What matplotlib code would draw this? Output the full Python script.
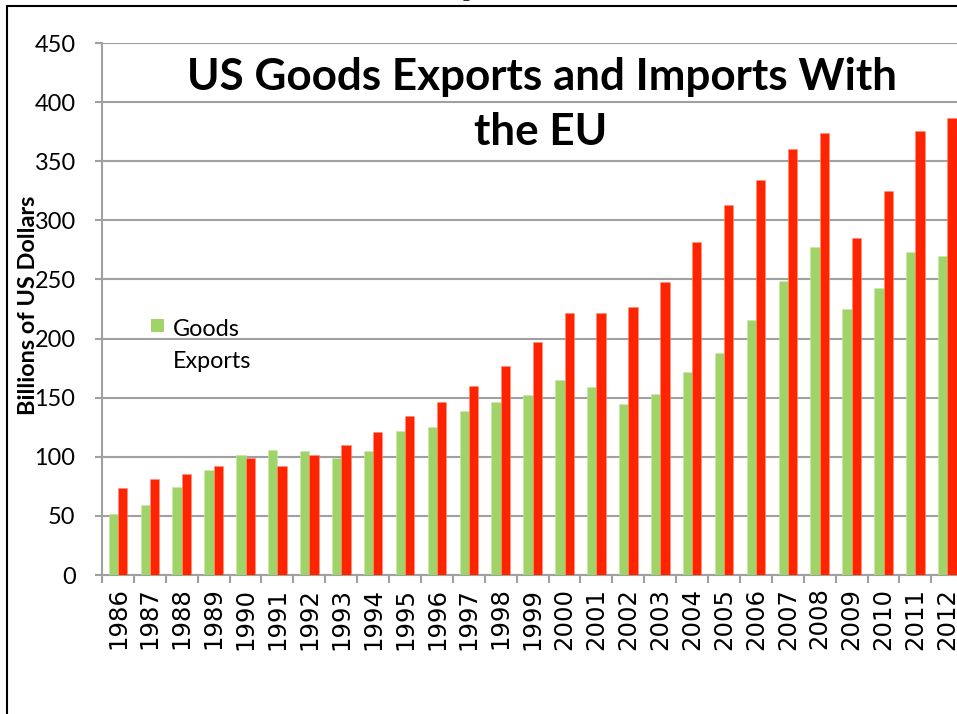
import matplotlib
matplotlib.use("Agg")
import matplotlib.pyplot as plt
import numpy as np
from matplotlib.patches import Rectangle

years = [str(y) for y in range(1986, 2013)]
exports = [51.7, 59.0, 74.2, 89.0, 101.1, 105.9, 105.1, 99.1, 105.3, 121.4,
           124.8, 138.4, 146.0, 152.0, 165.3, 158.8, 144.4, 152.8, 171.5, 188.1,
           215.5, 248.9, 277.1, 225.1, 242.4, 272.9, 269.5]
imports = [73.7, 81.3, 85.6, 92.6, 98.6, 92.4, 101.4, 109.6, 120.9, 134.2,
           146.0, 160.2, 176.6, 196.9, 221.8, 221.8, 227.1, 247.7, 281.4, 313.0,
           334.1, 360.6, 374.1, 285.4, 324.5, 375.2, 386.5]
yticks = list(range(0, 451, 50))
title_lines = ["US Goods Exports and Imports With", "the EU"]
ylabel = "Billions of US Dollars"
legend_label = ["Goods", "Exports"]

W, H = 957, 714
DPI = 100
fig = plt.figure(figsize=(W / DPI, H / DPI), dpi=DPI)
fig.patch.set_facecolor("white")

def fx(px):
    return px / W

def fy(py):
    return 1 - py / H

GREEN = "#A0D468"
RED = "#FF2400"
GRID = "#A0A0A0"

# axes: left x=102, zero y=575, 450 at y=43, category width 31.9 px
ax_left, ax_bottom_px, ax_top_px = 102, 575, 43
cat_w = 31.9
ax = fig.add_axes([fx(ax_left), fy(ax_bottom_px), len(years) * cat_w / W,
                   (ax_bottom_px - ax_top_px) / H])
x = np.arange(len(years))
bw = 0.29
ax.bar(x - bw / 2, exports, width=bw, color=GREEN, edgecolor="#C8E6A8",
       linewidth=0.4, zorder=3, label="Goods Exports")
ax.bar(x + bw / 2, imports, width=bw, color=RED, edgecolor="#FF8C7A",
       linewidth=0.4, zorder=3, label="Goods Imports")

ax.set_xlim(-0.5, len(years) - 0.5)
ax.set_ylim(0, 450)
ax.set_yticks(yticks)
ax.grid(axis="y", color=GRID, linewidth=1.5, zorder=0)
ax.set_axisbelow(True)
for s in ["top", "right"]:
    ax.spines[s].set_visible(False)
for s in ["left", "bottom"]:
    ax.spines[s].set_color(GRID)
    ax.spines[s].set_linewidth(1.5)

ax.set_xticks(x)
ax.set_xticklabels(years, rotation=90, family="DejaVu Sans", fontsize=17,
                   va="top", ha="center")
ax.set_xticks(np.arange(-0.5, len(years)), minor=True)
ax.tick_params(axis="x", which="major", length=0, pad=9)
ax.tick_params(axis="x", which="minor", length=6, width=1.5, color=GRID)
ax.tick_params(axis="y", which="major", length=5, width=1.5, color=GRID,
               pad=14, labelsize=18)
for t in ax.get_yticklabels():
    t.set_family("Lato")

# frame (cropped on right/bottom)
fig.patches.append(Rectangle((fx(6.5), -0.2), 1.5, fy(5.5) + 0.2,
                             transform=fig.transFigure, fill=False,
                             edgecolor="black", linewidth=1.5, zorder=10))
# clipped text remnant at top
fig.text(fx(467), fy(-4), "g", family="Liberation Serif", fontsize=16,
         ha="center", va="baseline")

t1 = fig.text(fx(542), fy(90), title_lines[0], family="Lato",
              fontweight="bold", fontsize=30, ha="center", va="baseline")
t2 = fig.text(fx(541), fy(145), title_lines[1], family="Lato",
              fontweight="bold", fontsize=30, ha="center", va="baseline")
yl = fig.text(fx(29), fy(305), ylabel, family="Lato", fontweight="bold",
              fontsize=15, rotation=90, ha="center", va="center")

# legend (manual)
fig.patches.append(Rectangle((fx(151), fy(332)), 13 / W, 13 / H,
                             transform=fig.transFigure, facecolor=GREEN,
                             edgecolor="none"))
lg1 = fig.text(fx(173), fy(336), legend_label[0], family="Lato", fontsize=17,
               ha="left", va="baseline")
lg2 = fig.text(fx(173), fy(368), legend_label[1], family="Lato", fontsize=17,
               ha="left", va="baseline")

fig.canvas.draw()
r = fig.canvas.get_renderer()

def fit(t, target, use_h=False):
    bb = t.get_window_extent(r)
    cur = bb.height if use_h else bb.width
    t.set_fontsize(t.get_fontsize() * target / cur)

fit(t1, 710)
t2.set_fontsize(t1.get_fontsize())
fit(yl, 220, use_h=True)
fit(lg1, 67)
lg2.set_fontsize(lg1.get_fontsize())
# tick labels
yt = [t for t in ax.get_yticklabels() if t.get_text() == "450"][0]
s = ax.yaxis.get_ticklabels()[0].get_fontsize()
bb = yt.get_window_extent(r)
ax.tick_params(axis="y", labelsize=s * 41 / bb.width)
xt = ax.get_xticklabels()[0]
bb = xt.get_window_extent(r)
ax.tick_params(axis="x", which="major", labelsize=17 * 62 / bb.height)

fig.savefig("out.png", dpi=DPI)
